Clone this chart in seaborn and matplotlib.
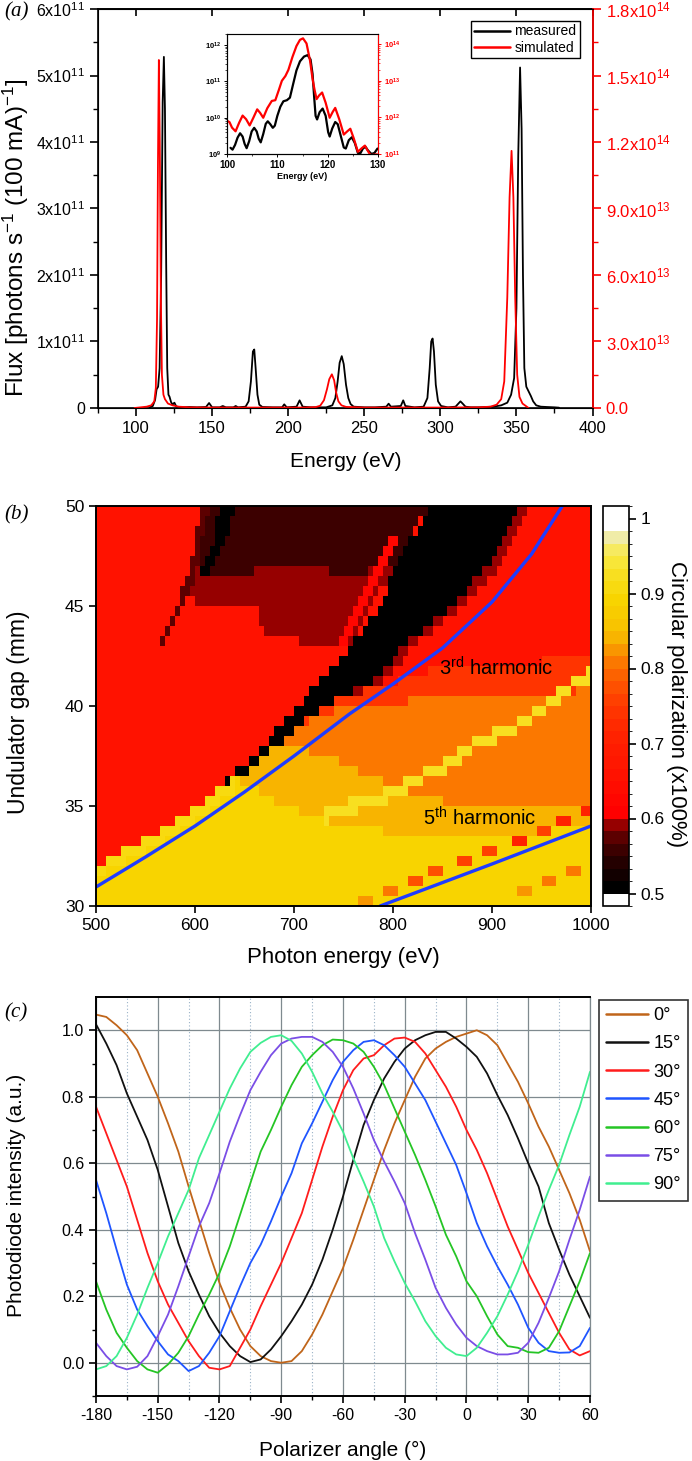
import numpy as np
import pandas as pd
import matplotlib
matplotlib.use("Agg")
import matplotlib.pyplot as plt
import seaborn as sns
from matplotlib.colors import ListedColormap, BoundaryNorm
from matplotlib.path import Path
from matplotlib.ticker import FixedLocator, LogLocator, NullFormatter
from matplotlib.lines import Line2D

sns.set_style("ticks")
plt.rcParams['font.family'] = ['Liberation Sans', 'DejaVu Sans']
plt.rcParams['mathtext.fontset'] = 'custom'
plt.rcParams['mathtext.rm'] = 'Liberation Sans'
plt.rcParams['mathtext.it'] = 'Liberation Sans:italic'
plt.rcParams['mathtext.bf'] = 'Liberation Sans:bold'
plt.rcParams['axes.unicode_minus'] = False
for k in ['text.color', 'axes.labelcolor', 'xtick.color', 'ytick.color', 'axes.edgecolor']:
    plt.rcParams[k] = 'black'

# ---------------- (a) flux spectra ----------------
meas_E = [109, 111, 112.5, 113.5, 114.5, 115.5, 116.5, 117.5, 118.3, 119,
          119.8, 120.5, 121.3, 122, 123, 124, 125.2, 126.5, 130, 135,
          140, 146, 148, 150, 155, 157, 159, 164, 165.5, 167,
          172, 174, 175.5, 176.8, 177.7, 178.6, 179.8, 181, 183, 190,
          196, 197.4, 199, 205.5, 207.5, 209.5, 215, 225, 229, 231,
          232.5, 233.8, 235.2, 236.5, 238, 239.5, 241, 243, 250, 257,
          264.5, 266, 267.5, 274, 275.6, 277, 283, 289, 291.5, 293,
          294, 294.9, 295.8, 297, 298.5, 300.5, 305, 310, 312, 313.2,
          314.5, 316.5, 320, 325, 330, 335, 340, 344, 346.5, 348.5,
          350, 351.2, 352.4, 353.4, 354.3, 355.2, 356.5, 358, 359.5, 361,
          363, 366, 370, 375, 378]
meas_flux_e11 = [0.01, 0.03, 0.12, 0.28, 0.32, 0.6, 2.0, 4.6, 5.28, 4.5,
                 2.2, 0.6, 0.2, 0.17, 0.09, 0.05, 0.08, 0.02, 0.01, 0.015,
                 0.01, 0.015, 0.075, 0.01, 0.01, 0.03, 0.01, 0.01, 0.03, 0.01,
                 0.02, 0.1, 0.4, 0.85, 0.88, 0.6, 0.2, 0.05, 0.015, 0.01,
                 0.01, 0.055, 0.01, 0.02, 0.115, 0.02, 0.01, 0.01, 0.04, 0.15,
                 0.4, 0.68, 0.78, 0.66, 0.35, 0.15, 0.06, 0.02, 0.01, 0.01,
                 0.02, 0.065, 0.02, 0.03, 0.115, 0.03, 0.01, 0.02, 0.15, 0.6,
                 1.0, 1.045, 0.85, 0.35, 0.1, 0.03, 0.01, 0.02, 0.07, 0.10,
                 0.07, 0.02, 0.01, 0.01, 0.015, 0.02, 0.04, 0.08, 0.2, 0.45,
                 1.5, 3.8, 5.12, 4.2, 2.0, 0.6, 0.32, 0.25, 0.18, 0.1,
                 0.04, 0.02, 0.015, 0.01, 0.005]
sim_E = [99, 103, 107, 110, 112, 113, 113.8, 114.4, 115.0, 115.6,
         116.3, 117, 118, 119, 121, 124, 128, 135, 150, 180,
         210, 218, 221, 223.5, 225.5, 227, 228.7, 230.2, 231.5, 233,
         235, 238, 250, 300, 325, 333, 337, 340, 342, 344,
         345.5, 346.8, 348, 349.2, 350.5, 352, 354, 356, 358]
sim_flux_e14 = [0.0, 0.003, 0.006, 0.012, 0.03, 0.09, 0.4, 1.1, 1.57, 1.2,
                0.5, 0.15, 0.06, 0.04, 0.02, 0.012, 0.006, 0.003, 0.002, 0.002,
                0.002, 0.004, 0.01, 0.035, 0.085, 0.13, 0.152, 0.125, 0.07, 0.03,
                0.012, 0.005, 0.002, 0.002, 0.003, 0.006, 0.015, 0.04, 0.12, 0.5,
                0.95, 1.16, 0.95, 0.5, 0.15, 0.05, 0.02, 0.01, 0.0]

inset_meas_E = [100.7, 101.1, 101.6, 102.1, 102.6, 103.1, 103.5, 103.9, 104.4, 104.9,
                105.4, 105.9, 106.3, 106.7, 107.2, 107.7, 108.1, 108.6, 109.1, 109.5,
                110.0, 110.6, 111.2, 111.9, 112.5, 113.1, 113.8, 114.5, 115.3, 116.0,
                116.6, 117.0, 117.3, 117.6, 117.9, 118.4, 119.0, 119.6, 120.1, 120.4,
                120.9, 121.5, 122.0, 122.6, 123.2, 123.6, 124.2, 124.8, 125.4, 126.0,
                126.5, 127.0, 127.5, 128.0, 128.7, 129.3, 129.9]
inset_meas_log10 = [9.17, 9.12, 9.25, 9.45, 9.57, 9.48, 9.28, 9.16, 9.35, 9.62,
                    9.72, 9.62, 9.42, 9.32, 9.55, 9.83, 9.9, 9.82, 9.72, 9.78,
                    10.05, 10.3, 10.45, 10.48, 10.55, 10.9, 11.3, 11.55, 11.68, 11.72,
                    11.6, 11.2, 10.6, 10.05, 9.95, 10.15, 10.25, 10.05, 9.6, 9.48,
                    9.7, 9.88, 9.82, 9.5, 9.18, 9.15, 9.38, 9.46, 9.3, 9.03,
                    9.02, 9.15, 9.2, 9.1, 9.0, 9.03, 9.15]
inset_sim_E = [100.0, 100.5, 101.0, 101.7, 102.4, 103.1, 103.8, 104.5, 105.2, 106.0,
               106.6, 107.2, 108.0, 108.9, 109.6, 110.3, 110.9, 111.6, 112.2, 113.0,
               113.8, 114.5, 115.1, 115.8, 116.5, 117.0, 117.4, 117.8, 118.3, 118.9,
               119.6, 120.4, 121.0, 121.5, 122.3, 123.2, 123.9, 124.5, 125.2, 126.0,
               126.7, 127.4, 128.0, 128.5, 129.2, 129.8]
inset_sim_log10 = [11.91, 11.87, 11.72, 11.62, 11.85, 12.05, 11.95, 11.78, 11.98, 12.22,
                   12.12, 11.99, 12.25, 12.45, 12.47, 12.75, 13.0, 13.13, 13.3, 13.65,
                   13.95, 14.12, 14.16, 14.02, 13.55, 13.05, 12.75, 12.5, 12.6, 12.68,
                   12.4, 11.99, 12.15, 12.26, 11.95, 11.53, 11.62, 11.69, 11.42, 11.06,
                   11.15, 11.23, 11.08, 10.97, 10.98, 10.99]

# ---------------- (b) polarization map ----------------
base_pol = 0.655
zone_O1 = [(645, 36.4), (690, 38.3), (719, 39.6), (742, 40.3), (800, 41.2), (850, 42.0), (900, 42.2),
           (1001, 42.3), (1001, 29.9), (645, 29.9)]
zone_O2 = [(645, 36.4), (690, 38.3), (719, 39.4), (742, 39.8), (800, 40.2), (900, 40.5), (1001, 40.8),
           (1001, 29.9), (645, 29.9)]
zone_YO = [(628, 36.0), (645, 36.4), (676, 37.8), (700, 38.0), (740, 37.4), (790, 36.2), (840, 35.3),
           (900, 35.0), (1001, 35.0), (1001, 29.9), (628, 29.9)]
zone_Y = [(499, 29.9), (499, 31.9), (527, 32.8), (574, 34.0), (605, 35.1), (628, 36.0), (645, 36.3),
          (660, 36.0), (690, 35.0), (730, 34.2), (780, 33.8), (830, 33.6), (880, 33.5), (930, 33.6),
          (1001, 34.0), (1001, 29.9)]
zone_edge = [(499, 31.9), (527, 32.8), (574, 34.0), (605, 35.1), (628, 36.0), (642, 36.4), (642, 35.8),
             (610, 34.6), (578, 33.5), (530, 32.3), (499, 31.4)]
zone_5th = [(730, 34.2), (803, 35.4), (830, 36.2), (857, 36.8), (880, 37.7), (926, 38.7), (957, 39.8),
            (984, 40.9), (1001, 41.3), (1001, 41.9), (984, 41.5), (957, 40.4), (926, 39.3), (880, 38.3),
            (857, 37.4), (830, 36.8), (803, 36.0), (730, 34.8)]
zone_wedge = [(611, 50.1), (596, 45.3), (618, 44.8), (665, 44.8), (670, 43.3), (745, 43.2), (760, 43.2),
              (803, 47.2), (837, 50.1)]
zone_dark = [(611, 50.1), (604, 46.6), (618, 46.6), (700, 46.9), (769, 46.6), (803, 47.2), (837, 50.1)]
zone_red_streak = [(800, 48.6), (809, 48.6), (779, 45.7), (752, 43.0), (743, 43.0), (770, 45.7)]
zone_left_edge = [(606, 50.1), (614, 50.1), (600, 46.5), (590, 45.3), (568, 43.0), (560, 43.0),
                  (583, 45.3), (594, 46.5)]
zone_black_col = [(626, 50.1), (642, 50.1), (628, 47.8), (614, 46.5), (604, 46.5), (616, 47.8)]
zone_black_edge = [(928, 50.1), (941, 50.1), (908, 47.0), (864, 44.8), (823, 43.1), (796, 41.4),
                   (752, 40.3), (742, 40.3), (786, 41.4), (813, 43.1), (854, 44.8), (897, 47.0)]
zone_black = [(630, 36.2), (665, 37.8), (690, 39.2), (699, 39.6), (709, 40.3), (729, 41.4), (759, 43.1),
              (786, 44.8), (803, 47.0), (820, 48.5), (837, 50.1), (928, 50.1), (897, 47.0), (854, 44.8),
              (813, 43.1), (786, 41.4), (742, 40.3), (719, 39.6), (690, 38.3), (676, 37.8), (645, 36.4)]
zone_values = [0.745, 0.805, 0.84, 0.885, 0.905, 0.92, 0.59, 0.555, 0.625, 0.575, 0.505, 0.59, 0.505]
spot_E = [951, 898, 871, 844, 822, 795, 771, 983, 958, 930, 928, 972, 995]
spot_gap = [33.6, 32.6, 32.1, 31.6, 31.1, 30.7, 30.2, 31.6, 31.1, 30.6, 33.1, 34.0, 34.6]
spot_pol = [0.76, 0.75, 0.75, 0.77, 0.78, 0.80, 0.82, 0.80, 0.81, 0.83, 0.70, 0.70, 0.70]

h3_E = [500, 550, 600, 650, 700, 756, 800, 850, 900, 940, 971]
h3_gap = [30.95, 32.45, 34.0, 35.7, 37.5, 39.6, 41.1, 42.9, 45.2, 47.6, 50.0]
h5_E = [787, 900, 1000]
h5_gap = [30.0, 32.1, 34.0]

cbar_colors = ['#ffffff', '#000000', '#120000', '#240000', '#3c0000', '#5c0000', '#960000',
               '#ff0000', '#ff0600', '#ff0c00', '#ff1200', '#ff1800', '#ff1c00', '#ff2200',
               '#ff2a00', '#ff3400', '#ff4000', '#fe5000', '#fc6200', '#fb7800', '#f99600',
               '#f8b400', '#f8c400', '#f8cc00', '#f8d400', '#f8da10', '#f8df20', '#f8e638',
               '#f6ea60', '#f0eca8', '#ffffff', '#ffffff']

# ---------------- (c) polarizer scans ----------------
angle_deg = [-180, -175, -170, -165, -160, -155, -150, -145, -140, -135, -130, -125, -120, -115,
             -110, -105, -100, -95, -90, -85, -80, -75, -70, -65, -60, -55, -50, -45, -40, -35,
             -30, -25, -20, -15, -10, -5, 0, 5, 10, 15, 20, 25, 30, 35, 40, 45, 50, 55, 60]
pol_0 = [1.047, 1.040, 1.015, 0.985, 0.940, 0.870, 0.800, 0.720, 0.635, 0.530, 0.430, 0.330, 0.240,
         0.165, 0.100, 0.050, 0.020, 0.005, 0.000, 0.005, 0.035, 0.085, 0.145, 0.215, 0.285, 0.370,
         0.460, 0.550, 0.640, 0.720, 0.790, 0.860, 0.915, 0.945, 0.965, 0.980, 0.990, 1.000, 0.985,
         0.955, 0.900, 0.845, 0.780, 0.710, 0.650, 0.580, 0.510, 0.430, 0.335]
pol_15 = [1.018, 0.960, 0.895, 0.810, 0.740, 0.670, 0.580, 0.470, 0.360, 0.275, 0.205, 0.140, 0.090,
          0.050, 0.020, 0.002, 0.010, 0.040, 0.080, 0.125, 0.175, 0.235, 0.310, 0.400, 0.500, 0.610,
          0.715, 0.790, 0.855, 0.905, 0.945, 0.970, 0.985, 0.995, 0.995, 0.975, 0.950, 0.920, 0.870,
          0.805, 0.745, 0.675, 0.600, 0.530, 0.420, 0.340, 0.265, 0.200, 0.135]
pol_30 = [0.770, 0.690, 0.610, 0.530, 0.430, 0.330, 0.245, 0.175, 0.120, 0.065, 0.020, -0.015, -0.020,
          -0.010, 0.045, 0.100, 0.170, 0.235, 0.300, 0.375, 0.450, 0.550, 0.650, 0.740, 0.820, 0.880,
          0.915, 0.925, 0.955, 0.975, 0.978, 0.965, 0.930, 0.880, 0.830, 0.770, 0.700, 0.640, 0.570,
          0.490, 0.410, 0.340, 0.270, 0.210, 0.150, 0.090, 0.040, 0.022, 0.035]
pol_45 = [0.550, 0.450, 0.340, 0.235, 0.160, 0.110, 0.065, 0.025, 0.005, -0.025, -0.010, 0.030, 0.080,
          0.155, 0.230, 0.300, 0.355, 0.425, 0.500, 0.570, 0.660, 0.720, 0.785, 0.850, 0.905, 0.940,
          0.965, 0.970, 0.955, 0.925, 0.890, 0.840, 0.790, 0.725, 0.660, 0.595, 0.510, 0.420, 0.350,
          0.290, 0.235, 0.175, 0.105, 0.060, 0.035, 0.030, 0.031, 0.050, 0.105]
pol_60 = [0.245, 0.160, 0.090, 0.045, 0.005, -0.020, -0.030, -0.005, 0.030, 0.080, 0.145, 0.205, 0.270,
          0.350, 0.445, 0.540, 0.635, 0.700, 0.770, 0.835, 0.890, 0.925, 0.955, 0.972, 0.970, 0.960,
          0.935, 0.890, 0.835, 0.765, 0.695, 0.625, 0.550, 0.470, 0.385, 0.320, 0.245, 0.200, 0.140,
          0.085, 0.050, 0.045, 0.032, 0.030, 0.045, 0.095, 0.170, 0.245, 0.330]
pol_75 = [0.060, 0.020, -0.010, -0.020, -0.012, 0.020, 0.080, 0.145, 0.230, 0.320, 0.410, 0.480, 0.570,
          0.665, 0.745, 0.820, 0.875, 0.925, 0.960, 0.975, 0.980, 0.980, 0.965, 0.935, 0.890, 0.825,
          0.750, 0.670, 0.605, 0.545, 0.480, 0.390, 0.310, 0.225, 0.165, 0.115, 0.075, 0.050, 0.035,
          0.025, 0.025, 0.030, 0.060, 0.120, 0.195, 0.275, 0.370, 0.460, 0.560]
pol_90 = [-0.020, -0.010, 0.020, 0.075, 0.145, 0.225, 0.300, 0.380, 0.450, 0.520, 0.615, 0.685, 0.755,
          0.825, 0.885, 0.935, 0.962, 0.980, 0.985, 0.968, 0.930, 0.875, 0.810, 0.755, 0.695, 0.615,
          0.545, 0.470, 0.375, 0.305, 0.240, 0.185, 0.125, 0.080, 0.045, 0.025, 0.020, 0.045, 0.090,
          0.140, 0.205, 0.275, 0.355, 0.440, 0.520, 0.595, 0.685, 0.770, 0.875]
series_labels = ['0°', '15°', '30°', '45°', '60°', '75°', '90°']
series_colors = ['#c0651a', '#111111', '#ff1c1c', '#1f55ff', '#25c525', '#7a4ee6', '#40ee90']

# ================= figure =================
W, H = 692, 1461
fig = plt.figure(figsize=(W / 100, H / 100), dpi=100)


def rect(l, t, r, b):
    return [l / W, 1 - b / H, (r - l) / W, (b - t) / H]


# ---------- panel (a) ----------
ax_a = fig.add_axes(rect(98, 9, 592.5, 408))
sns.lineplot(x=meas_E, y=np.array(meas_flux_e11) * 1e11, ax=ax_a, color='black', lw=1.3,
             sort=False, estimator=None)
ax_a.set_xlim(75, 400)
ax_a.set_ylim(0, 6e11)
ax_a.set_xticks([100, 150, 200, 250, 300, 350, 400])
ax_a.xaxis.set_minor_locator(FixedLocator([75, 125, 175, 225, 275, 325, 375]))
ax_a.set_yticks([0, 1e11, 2e11, 3e11, 4e11, 5e11, 6e11])
ax_a.set_yticklabels(['0'] + ['%dx10$^{11}$' % i for i in range(1, 7)])
ax_a.yaxis.set_minor_locator(FixedLocator([0.5e11, 1.5e11, 2.5e11, 3.5e11, 4.5e11, 5.5e11]))
ax_a.tick_params(which='major', direction='out', length=6, width=1.2, labelsize=11.5)
ax_a.tick_params(which='minor', direction='out', length=3.5, width=1.0)
ax_a.tick_params(axis='x', labelsize=12)
for s in ax_a.spines.values():
    s.set_linewidth(1.2)
ax_a.set_xlabel('Energy (eV)', fontsize=15)
ax_a.xaxis.set_label_coords(0.5, (408 - 462) / 399)
ax_a.xaxis.label.set_verticalalignment('center')
ax_a.set_ylabel('Flux [photons s$^{-1}$ (100 mA)$^{-1}$]', fontsize=17.5)
ax_a.yaxis.set_label_coords((16 - 98) / 494.5, (408 - 238) / 399)
ax_a.yaxis.label.set_verticalalignment('center')
sec = ax_a.secondary_xaxis('top')
sec.set_xticks([100, 150, 200, 250, 300, 350, 400])
sec.tick_params(direction='in', length=5, width=1.2, labeltop=False)
sec.spines['top'].set_linewidth(1.2)

ax_a2 = ax_a.twinx()
sns.lineplot(x=sim_E, y=np.array(sim_flux_e14) * 1e14, ax=ax_a2, color='#ff0000', lw=1.3,
             sort=False, estimator=None)
ax_a2.set_ylim(0, 1.8e14)
ax_a2.set_yticks([0, 3e13, 6e13, 9e13, 1.2e14, 1.5e14, 1.8e14])
ax_a2.set_yticklabels(['0.0', '3.0x10$^{13}$', '6.0x10$^{13}$', '9.0x10$^{13}$',
                       '1.2x10$^{14}$', '1.5x10$^{14}$', '1.8x10$^{14}$'])
ax_a2.yaxis.set_minor_locator(FixedLocator([1.5e13, 4.5e13, 7.5e13, 1.05e14, 1.35e14, 1.65e14]))
ax_a2.tick_params(axis='y', which='major', direction='out', length=6, width=1.2, labelsize=12,
                  colors='#ff0000')
ax_a2.tick_params(axis='y', which='minor', direction='out', length=3.5, width=1.0, colors='#ff0000')
ax_a2.spines['right'].set_color('#ff0000')
ax_a2.spines['right'].set_linewidth(1.2)
ax_a2.set_ylabel('')
leg_a = ax_a2.legend(handles=[Line2D([], [], color='black', lw=1.8), Line2D([], [], color='#ff0000', lw=1.8)],
                     labels=['measured', 'simulated'], loc='upper right',
                     bbox_to_anchor=((580 - 98) / 494.5, (408 - 21) / 399), borderaxespad=0,
                     fontsize=10, handlelength=2.6, handletextpad=0.3, labelspacing=0.15,
                     borderpad=0.25, fancybox=False, framealpha=1, edgecolor='black')
leg_a.get_frame().set_linewidth(1.0)

# inset
ax_in = fig.add_axes(rect(227, 34, 378, 154))
sns.lineplot(x=inset_meas_E, y=10 ** np.array(inset_meas_log10), ax=ax_in, color='black', lw=1.6,
             sort=False, estimator=None)
ax_in.set_yscale('log')
ax_in.set_xlim(100, 130)
ax_in.set_ylim(1e9, 2e12)
ax_in.set_xticks([100, 110, 120, 130])
ax_in.set_xticklabels(['100', '110', '120', '130'], fontsize=7, fontweight='bold')
ax_in.xaxis.set_minor_locator(FixedLocator([105, 115, 125]))
ax_in.set_yticks([1e9, 1e10, 1e11, 1e12])
ax_in.set_yticklabels([r'$\mathbf{10^{9}}$', r'$\mathbf{10^{10}}$', r'$\mathbf{10^{11}}$',
                       r'$\mathbf{10^{12}}$'], fontsize=5.5)
ax_in.yaxis.set_minor_locator(LogLocator(base=10, subs=np.arange(2, 10)))
ax_in.yaxis.set_minor_formatter(NullFormatter())
ax_in.tick_params(which='major', length=2.5, width=0.7, pad=1.5)
ax_in.tick_params(which='minor', length=1.3, width=0.5)
ax_in.set_xlabel('Energy (eV)', fontsize=6.5, fontweight='bold', labelpad=2)
for s in ax_in.spines.values():
    s.set_linewidth(0.8)
ax_in.spines['top'].set_color('#888888')
ax_in2 = ax_in.twinx()
sns.lineplot(x=inset_sim_E, y=10 ** np.array(inset_sim_log10), ax=ax_in2, color='#ff0000', lw=1.6,
             sort=False, estimator=None)
ax_in2.set_yscale('log')
ax_in2.set_ylim(1e11, 1.9e14)
ax_in2.set_yticks([1e11, 1e12, 1e13, 1e14])
ax_in2.set_yticklabels([r'$\mathbf{10^{11}}$', r'$\mathbf{10^{12}}$', r'$\mathbf{10^{13}}$',
                        r'$\mathbf{10^{14}}$'], fontsize=5.5, color='#ff0000')
ax_in2.yaxis.set_minor_locator(LogLocator(base=10, subs=np.arange(2, 10)))
ax_in2.yaxis.set_minor_formatter(NullFormatter())
ax_in2.tick_params(which='major', length=2.5, width=0.7, pad=1.5, colors='#ff0000')
ax_in2.tick_params(which='minor', length=1.3, width=0.5, colors='#ff0000')
ax_in2.spines['right'].set_color('#ff0000')
ax_in2.spines['right'].set_linewidth(0.8)
ax_in2.set_ylabel('')

# ---------- panel (b) ----------
ax_b = fig.add_axes(rect(96, 506, 591, 906))
cax = fig.add_axes(rect(603, 506, 629, 906))
E_edges = np.arange(500, 1000.1, 5.0)
gap_edges = np.arange(30, 50.01, 0.5)
Ec = (E_edges[:-1] + E_edges[1:]) / 2
gc = (gap_edges[:-1] + gap_edges[1:]) / 2
EE, GG = np.meshgrid(Ec, gc)
pts = np.column_stack([EE.ravel(), GG.ravel()])
pol_map = np.full(EE.shape, base_pol)
zones = [zone_O1, zone_O2, zone_YO, zone_Y, zone_edge, zone_5th, zone_wedge, zone_dark,
         zone_red_streak, zone_left_edge, zone_black_col, zone_black_edge, zone_black]
for verts, val in zip(zones, zone_values):
    m = Path(verts).contains_points(pts).reshape(EE.shape)
    pol_map[m] = val
for e, g, v in zip(spot_E, spot_gap, spot_pol):
    ix = int((e - 500) // 5)
    iy = int((g - 30) // 0.5)
    pol_map[iy, max(ix - 1, 0):min(ix + 1, len(Ec) - 1) + 1] = v

bounds = 0.5 + (np.arange(33) - 1) / 60.0
cmap = ListedColormap(cbar_colors)
norm = BoundaryNorm(bounds, cmap.N)
mesh = ax_b.pcolormesh(E_edges, gap_edges, pol_map, cmap=cmap, norm=norm, shading='flat')
sns.lineplot(x=h3_E, y=h3_gap, ax=ax_b, color='#1f3cff', lw=2.4, sort=False, estimator=None)
sns.lineplot(x=h5_E, y=h5_gap, ax=ax_b, color='#1f3cff', lw=2.4, sort=False, estimator=None)
ax_b.set_xlim(500, 1000)
ax_b.set_ylim(30, 50)
ax_b.set_xticks([500, 600, 700, 800, 900, 1000])
ax_b.set_yticks([30, 35, 40, 45, 50])
ax_b.tick_params(direction='out', length=5, width=1.2, labelsize=12.5)
for s in ax_b.spines.values():
    s.set_linewidth(1.4)
ax_b.text(904, 41.9, r'3$^{\mathregular{rd}}$ harmonic', ha='center', va='center', fontsize=14.5)
ax_b.text(888, 34.4, r'5$^{\mathregular{th}}$ harmonic', ha='center', va='center', fontsize=14.5)
ax_b.set_xlabel('Photon energy (eV)', fontsize=16)
ax_b.xaxis.set_label_coords(0.5, (906 - 958) / 400)
ax_b.xaxis.label.set_verticalalignment('center')
ax_b.set_ylabel('Undulator gap (mm)', fontsize=16.5)
ax_b.yaxis.set_label_coords((19 - 96) / 495, (906 - 712) / 400)
ax_b.yaxis.label.set_verticalalignment('center')

cb = fig.colorbar(mesh, cax=cax, ticks=[0.5, 0.6, 0.7, 0.8, 0.9, 1.0])
cb.ax.set_yticklabels(['0.5', '0.6', '0.7', '0.8', '0.9', '1'])
cb.ax.tick_params(direction='out', length=5, width=1.2, labelsize=12.5)
cb.outline.set_linewidth(1.2)
cb.set_label('Circular polarization (x100%)', fontsize=16, rotation=270)
cb.ax.yaxis.set_label_coords((676 - 603) / 26, (906 - 704) / 400)
cb.ax.yaxis.label.set_verticalalignment('center')

# ---------- panel (c) ----------
ax_c = fig.add_axes(rect(96, 997, 590, 1396))
series_values = [pol_0, pol_15, pol_30, pol_45, pol_60, pol_75, pol_90]
df = pd.DataFrame({
    'angle': np.tile(angle_deg, len(series_labels)),
    'intensity': np.concatenate(series_values),
    'pol': np.repeat(series_labels, len(angle_deg)),
})
ax_c.set_axisbelow(True)
sns.lineplot(data=df, x='angle', y='intensity', hue='pol', hue_order=series_labels,
             palette=dict(zip(series_labels, series_colors)), lw=1.3, legend=False, ax=ax_c,
             estimator=None, sort=False)
ax_c.set_xlim(-180, 60)
ax_c.set_ylim(-0.1, 1.1)
ax_c.set_xticks([-180, -150, -120, -90, -60, -30, 0, 30, 60])
ax_c.xaxis.set_minor_locator(FixedLocator([-165, -135, -105, -75, -45, -15, 15, 45]))
ax_c.set_yticks([0.0, 0.2, 0.4, 0.6, 0.8, 1.0])
ax_c.set_yticklabels(['0.0', '0.2', '0.4', '0.6', '0.8', '1.0'])
ax_c.yaxis.set_minor_locator(FixedLocator([-0.1, 0.1, 0.3, 0.5, 0.7, 0.9]))
ax_c.grid(which='major', color='#7f8a8f', lw=0.9)
ax_c.xaxis.grid(which='minor', color='#9ab2c8', lw=0.8, ls=(0, (1, 2)))
ax_c.tick_params(which='major', direction='out', length=5, width=1.2, labelsize=11.5)
ax_c.tick_params(which='minor', direction='out', length=3, width=1.0)
for s in ['left', 'bottom', 'top']:
    ax_c.spines[s].set_linewidth(1.4)
ax_c.spines['right'].set_color('#7f8a8f')
ax_c.spines['right'].set_linewidth(0.9)
ax_c.set_xlabel('Polarizer angle (°)', fontsize=15)
ax_c.xaxis.set_label_coords(0.5, (1396 - 1450) / 399)
ax_c.xaxis.label.set_verticalalignment('center')
ax_c.set_ylabel('Photodiode intensity (a.u.)', fontsize=15)
ax_c.yaxis.set_label_coords((17 - 96) / 494, (1396 - 1195) / 399)
ax_c.yaxis.label.set_verticalalignment('center')
handles = [Line2D([], [], color=c, lw=1.8) for c in series_colors]
leg_c = ax_c.legend(handles=handles, labels=series_labels, loc='upper left',
                    bbox_to_anchor=((599 - 96) / 494, (1396 - 1000) / 399), borderaxespad=0,
                    fontsize=13, handlelength=2.3, handletextpad=0.3, labelspacing=0.62,
                    borderpad=0.4, fancybox=False, framealpha=1, edgecolor='#333333')
leg_c.get_frame().set_linewidth(1.2)

# panel letters
for txt, y in [('(a)', 12), ('(b)', 515), ('(c)', 1013)]:
    fig.text(4 / W, 1 - y / H, txt, family=['Liberation Serif', 'DejaVu Serif'], style='italic',
             fontsize=15, va='center', ha='left')

fig.savefig('out.png', dpi=100)
